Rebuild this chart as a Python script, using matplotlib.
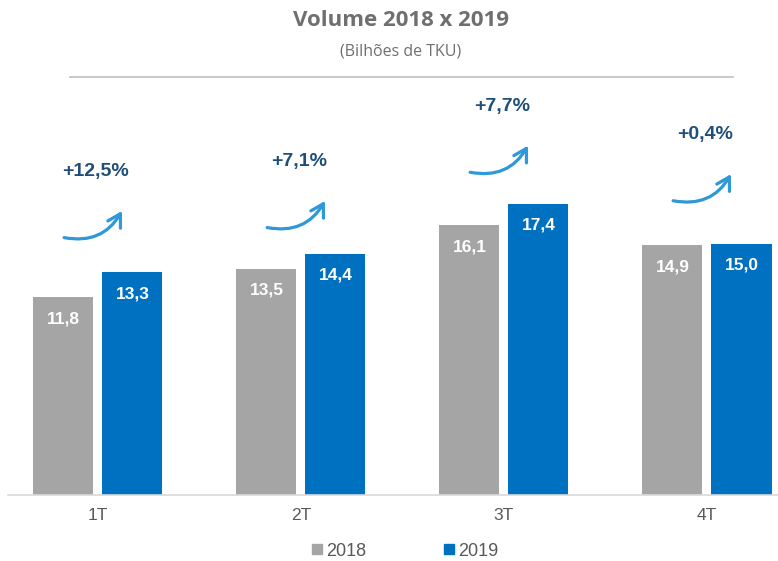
import matplotlib
matplotlib.use("Agg")
import matplotlib.pyplot as plt
from matplotlib.patches import FancyArrowPatch
from matplotlib.lines import Line2D
import numpy as np

# ---- data ----
quarters = ["1T", "2T", "3T", "4T"]
vol_2018 = [11.8, 13.5, 16.1, 14.9]
vol_2019 = [13.3, 14.4, 17.4, 15.0]
growth_labels = ["+12,5%", "+7,1%", "+7,7%", "+0,4%"]
series_names = ["2018", "2019"]

# ---- layout (annotation heights, data units) ----
arrow_base = [15.5, 16.1, 19.4, 17.7]

C18 = "#a5a5a5"
C19 = "#0070c0"
TXT = "#595959"
PCT = "#1f4e79"
ARW = "#2e98d8"

plt.rcParams['font.family'] = ['Liberation Sans', 'DejaVu Sans']

fig = plt.figure(figsize=(7.78, 5.61), dpi=100)
ax = fig.add_axes([8/778, 66/561, 770/778, 395/561])

x = np.arange(len(quarters))
w = 0.296
off = 0.17
b1 = ax.bar(x - off, vol_2018, w, color=C18, label=series_names[0])
b2 = ax.bar(x + off, vol_2019, w, color=C19, label=series_names[1])

for bars in (b1, b2):
    for r in bars:
        v = r.get_height()
        ax.annotate(f"{v:.1f}".replace(".", ","), (r.get_x() + r.get_width()/2, v),
                    xytext=(0, -10), textcoords="offset points", ha="center", va="top",
                    color="white", fontsize=12.5, fontweight="bold")

for i, (lab, yb) in enumerate(zip(growth_labels, arrow_base)):
    arr = FancyArrowPatch((i - 0.18, yb - 0.1), (i + 0.125, yb + 1.6),
                          connectionstyle="arc3,rad=0.38",
                          arrowstyle="->,head_length=6,head_width=3.5",
                          color=ARW, lw=2.3, mutation_scale=1.5, capstyle="round",
                          joinstyle="round")
    ax.add_patch(arr)
    ax.text(i - 0.01, yb + 3.8, lab, ha="center", va="center", color=PCT,
            fontsize=14, fontweight="bold")

ax.set_xlim(-0.443, 3.35)
ax.set_ylim(0, 23.58)
ax.set_xticks(x)
ax.set_xticklabels(quarters, fontsize=12.5, color=TXT)
ax.tick_params(axis="x", length=0, pad=9)
ax.set_yticks([])
for s in ["top", "right", "left"]:
    ax.spines[s].set_visible(False)
ax.spines["bottom"].set_color("#d9d9d9")
ax.spines["bottom"].set_linewidth(1.2)

fig.text(401/778, 1 - 21/561, "Volume 2018 x 2019", ha="center", va="center",
         fontsize=16, fontweight="bold", color="#6f6f6f", family=["Open Sans", "DejaVu Sans"])
fig.text(401/778, 1 - 52/561, "(Bilhões de TKU)", ha="center", va="center",
         fontsize=11.5, color="#6f6f6f", family=["Open Sans", "DejaVu Sans"])
fig.add_artist(Line2D([70/778, 733/778], [1 - 77/561, 1 - 77/561], transform=fig.transFigure,
                      color="#bfbfbf", lw=1.2))

handles = [Line2D([], [], marker="s", ls="", color=C18, markersize=7),
           Line2D([], [], marker="s", ls="", color=C19, markersize=7)]
fig.legend(handles, series_names, loc="center", bbox_to_anchor=(405/778, 1 - 551/561), ncol=2,
           frameon=False, fontsize=13, handlelength=0.6, handletextpad=0.2, columnspacing=4.3,
           labelcolor=TXT)

fig.savefig("out.png", dpi=100)
